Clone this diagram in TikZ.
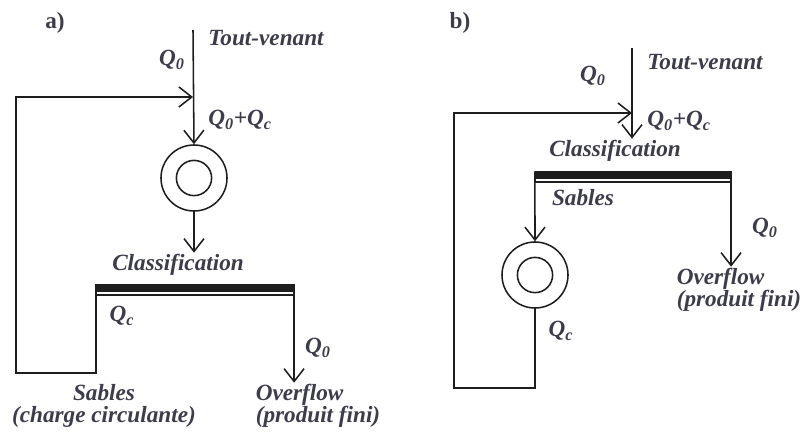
\documentclass[tikz,border=0pt]{standalone}
\usepackage{fontspec}
\setmainfont{Liberation Serif}
\usetikzlibrary{arrows.meta, calc}
\definecolor{txtgray}{HTML}{3C3C4A}
\definecolor{linegray}{HTML}{1E1E1E}

\begin{document}
\begin{tikzpicture}[
  x=0.025cm, y=-0.025cm,
  lbl/.style={font=\fontsize{16.5}{15.6}\selectfont\bfseries\itshape, text=txtgray,
              inner sep=1pt, align=center},
  tag/.style={font=\fontsize{16.5}{15.6}\selectfont\bfseries, text=txtgray, inner sep=1pt},
  flow/.style={-{Straight Barb[length=3.2mm, width=5mm, line width=1.1pt]},
               line width=1.1pt, draw=linegray},
  pipe/.style={line width=1.1pt, draw=linegray},
  cyclone/.style={circle, draw=linegray, line width=1.1pt, minimum size=1.65cm, inner sep=0pt,
                  path picture={\draw[linegray, line width=1.1pt]
                    (path picture bounding box.center) circle (0.44cm);}},
  screen/.style={rectangle, draw=linegray, line width=0.8pt, minimum height=0.25cm,
                 inner sep=0pt,
                 path picture={\fill[linegray] (path picture bounding box.north west)
                    rectangle ([yshift=-0.17cm]path picture bounding box.north east);}}
]
\useasboundingbox (0,0) rectangle (801,435);

% a)
\node[tag] (labela) at (55,23) {a)};
\coordinate (srca) at (193,30);
\coordinate (feedja) at (193,97);
\coordinate (botla) at (16,373);
\node[cyclone] (cyca) at (194,178) {};
\node[screen, minimum width=4.925cm] (scra) at (195,290) {};

\node[lbl] (tvena) at (266,38) {Tout-venant};
\node[lbl] (q0a) at (172,60) {Q\textsubscript{0}};
\node[lbl] (qsuma) at (240,120) {Q\textsubscript{0}+Q\textsubscript{c}};
\node[lbl] (clsa) at (178,265) {Classification};
\node[lbl] (qca) at (122,316) {Q\textsubscript{c}};
\node[lbl] (q0oa) at (318,348) {Q\textsubscript{0}};
\node[lbl] (sabla) at (104,406) {Sables\\(charge circulante)};
\node[lbl, align=left] (ofla) at (318,406) {Overflow\\(produit fini)};

\draw[flow] (srca) -- (cyca.north);
\draw[flow] (cyca.south) -- (cyca.south |- clsa.north);
\draw[flow] (scra.north west) |- (botla) |- (feedja);
\draw[flow] (scra.north east) -- (scra.north east |- ofla.north);

% b)
\node[tag] (labelb) at (460,23) {b)};
\coordinate (srcb) at (632,48);
\coordinate (feedjb) at (632,113);
\coordinate (botlb) at (454,388);
\node[screen, minimum width=4.875cm] (scrb) at (633,177) {};
\node[cyclone] (cycb) at (535,275) {};

\node[lbl] (tvenb) at (705,62) {Tout-venant};
\node[lbl] (q0b) at (593,76) {Q\textsubscript{0}};
\node[lbl] (qsumb) at (679,121) {Q\textsubscript{0}+Q\textsubscript{c}};
\node[lbl] (clsb) at (615,151) {Classification};
\node[lbl] (sablb) at (583,198) {Sables};
\node[lbl] (q0ob) at (765,228) {Q\textsubscript{0}};
\node[lbl] (qcb) at (561,331) {Q\textsubscript{c}};
\node[lbl, align=left] (oflb) at (739,290) {Overflow\\(produit fini)};

\draw[flow] (srcb) -- (srcb |- clsb.north);
\draw[flow] (scrb.north west) -- (cycb.north);
\draw[flow] (cycb.south) |- (botlb) |- (feedjb);
\draw[flow] (scrb.north east) -- (scrb.north east |- oflb.north);

\end{tikzpicture}
\end{document}
